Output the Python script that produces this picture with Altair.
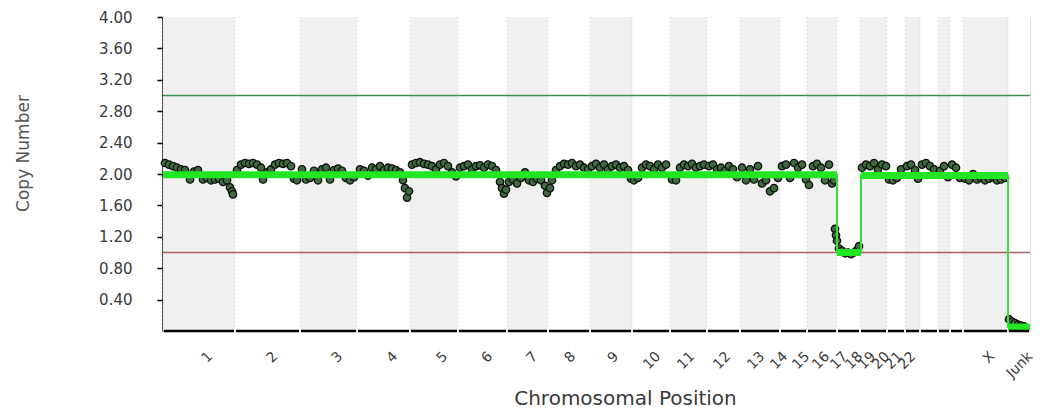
import json
import altair as alt
import pandas as pd

# ---------------- data ----------------
chrom_names = ['1', '2', '3', '4', '5', '6', '7', '8', '9', '10', '11', '12', '13', '14',
               '15', '16', '17', '18', '19', '20', '21', '22', 'X', 'Junk']
chrom_start = [0, 72, 137, 194, 247, 295, 344, 385, 427, 469, 507, 544, 577, 617,
               644, 674, 697, 724, 742, 757, 775, 787, 800, 845]
chrom_end = [72, 137, 194, 247, 295, 344, 385, 427, 469, 507, 544, 577, 617, 644,
             674, 697, 724, 742, 757, 775, 787, 800, 845, 867]
label_pos = [42, 107, 172, 227, 277, 322, 367, 405, 448, 490, 524, 560, 594, 617,
             639, 659, 677, 692, 705, 719, 732, 745, 824, 862]

y_ticks = [0.4, 0.8, 1.2, 1.6, 2.0, 2.4, 2.8, 3.2, 3.6, 4.0]
ref_cn = [3.0, 1.0]
ref_color = ['#3f8f4f', '#a86060']

seg_start = [0, 674, 698, 845]
seg_end = [674, 698, 845, 867]
seg_cn = [1.99, 1.00, 1.98, 0.05]

point_pos = [
    2, 6, 10, 14, 18, 22, 27, 31, 35, 40, 44, 48, 52, 56, 60, 64, 67, 69, 70,
    74, 78, 82, 86, 90, 94, 98, 100, 104, 108, 112, 116, 120, 124, 128, 131, 134,
    139, 143, 147, 151, 155, 159, 163, 167, 171, 175, 179, 183, 187, 191,
    197, 201, 205, 209, 213, 217, 221, 225, 229, 233, 237, 240, 242, 244, 246,
    249, 253, 257, 261, 265, 269, 273, 277, 281, 285, 289, 293,
    297, 301, 305, 309, 313, 317, 321, 325, 329, 333, 337, 339, 341, 343,
    346, 350, 354, 358, 362, 366, 370, 374, 378, 382, 384,
    387, 389, 393, 397, 401, 405, 409, 413, 417, 421, 425,
    429, 433, 437, 441, 445, 449, 453, 457, 461, 465, 468,
    471, 475, 479, 483, 487, 491, 495, 499, 503,
    509, 513, 517, 521, 525, 529, 533, 537, 541,
    546, 550, 554, 558, 562, 566, 570, 574,
    579, 583, 587, 591, 595, 599, 603, 607, 611, 615,
    619, 623, 627, 631, 635, 639, 643,
    646, 650, 654, 658, 662, 666, 669, 671,
    672, 673, 674, 676, 679, 682, 685, 688, 691, 694, 696,
    699, 703, 707, 711, 715, 719, 723,
    726, 730, 734, 738,
    744, 748, 752, 755,
    759, 763, 767, 771,
    777, 781, 785,
    789, 793, 797,
    802, 806, 810, 814, 818, 822, 826, 830, 834, 838, 842,
    846, 849, 852, 855, 858, 861,
]
point_cn = [
    2.14, 2.12, 2.10, 2.08, 2.06, 2.05, 1.93, 2.03, 2.05, 1.93, 1.95, 1.92, 1.93, 1.94, 1.90, 1.92, 1.83, 1.78, 1.74,
    2.05, 2.12, 2.14, 2.13, 2.14, 2.12, 2.08, 1.93, 2.02, 2.06, 2.12, 2.14, 2.13, 2.14, 2.10, 1.94, 1.92,
    2.06, 1.93, 1.95, 2.04, 1.92, 2.06, 2.08, 1.93, 2.05, 2.07, 2.04, 1.95, 1.92, 1.96,
    2.06, 2.04, 1.98, 2.08, 2.06, 2.10, 2.05, 2.08, 2.07, 2.05, 2.02, 1.92, 1.82, 1.70, 1.78,
    2.12, 2.14, 2.15, 2.13, 2.12, 2.10, 2.06, 2.12, 2.14, 2.10, 2.02, 1.97,
    2.08, 2.10, 2.12, 2.06, 2.10, 2.11, 2.08, 2.12, 2.10, 2.05, 1.90, 1.82, 1.75, 1.80,
    1.90, 1.93, 1.88, 1.95, 2.02, 1.92, 1.90, 1.94, 1.92, 1.85, 1.76,
    1.82, 1.92, 2.05, 2.10, 2.13, 2.12, 2.14, 2.10, 2.12, 2.08, 2.06,
    2.10, 2.13, 2.08, 2.12, 2.06, 2.10, 2.12, 2.08, 2.10, 2.05, 1.94,
    1.92, 1.95, 2.08, 2.12, 2.10, 2.06, 2.12, 2.08, 2.12,
    1.93, 1.92, 2.08, 2.12, 2.10, 2.13, 2.08, 2.10, 2.12,
    2.10, 2.12, 2.06, 2.08, 2.04, 2.10, 2.06, 1.96,
    2.08, 1.92, 2.06, 1.93, 2.10, 1.88, 1.92, 1.78, 1.82, 1.95,
    2.10, 2.12, 1.95, 2.14, 2.08, 2.12, 1.93,
    1.86, 2.10, 2.13, 2.08, 1.92, 2.12, 1.88, 1.92,
    1.30, 1.22, 1.15, 1.05, 1.02, 0.99, 1.00, 0.98, 1.00, 1.03, 1.08,
    2.08, 2.12, 2.10, 2.14, 2.06, 2.12, 2.10,
    1.93, 1.92, 1.95, 2.06,
    2.10, 2.12, 2.05, 1.94,
    2.12, 2.14, 2.10, 2.06,
    2.04, 2.10, 1.96,
    2.12, 2.08, 1.95,
    1.94, 1.92, 2.00, 1.93, 1.95, 1.92, 1.94, 1.96, 1.92, 1.93, 1.95,
    0.15, 0.12, 0.10, 0.08, 0.07, 0.06,
]

# ---------------- tables ----------------
bands_df = pd.DataFrame({
    'chrom': chrom_names,
    'start': chrom_start,
    'end': chrom_end,
    'shade': ['g' if i % 2 == 0 else 'w' for i in range(len(chrom_names))],
})
points_df = pd.DataFrame({'pos': point_pos, 'cn': point_cn})
seg_df = pd.DataFrame({'start': seg_start, 'end': seg_end, 'cn': seg_cn})
step_rows = []
for i, (s, e, v) in enumerate(zip(seg_start, seg_end, seg_cn)):
    step_rows.append({'pos': s, 'cn': v, 'o': 2 * i})
    step_rows.append({'pos': e, 'cn': v, 'o': 2 * i + 1})
step_df = pd.DataFrame(step_rows)
ref_df = pd.DataFrame({'cn': ref_cn, 'c': ref_color})

W, H = 867, 314
FONT = 'DejaVu Sans'

xscale = alt.Scale(domain=[0, 867], nice=False, zero=False)
yscale = alt.Scale(domain=[0, 4], nice=False)

label_expr = f"{json.dumps(chrom_names)}[indexof({json.dumps(label_pos)}, datum.value)]"

xaxis = alt.Axis(
    title='Chromosomal Position', values=label_pos, labelExpr=label_expr,
    domain=False, ticks=False, grid=False, labelAngle=-45, labelAlign='right',
    labelBaseline='top', labelPadding=18, labelOverlap=False, labelBound=False,
    labelFont=FONT, labelFontSize=14, labelColor='#3a3a3a',
    titleFont=FONT, titleFontSize=20, titleFontWeight='normal', titleColor='#3a3a3a',
    titleX=462, titleY=67, titleAlign='center', titleBaseline='middle',
)
yaxis = alt.Axis(
    title='Copy Number', values=y_ticks, format='.2f', grid=False,
    domainColor='black', domainWidth=2.5, tickColor='black', tickSize=6, tickWidth=1.5,
    labelPadding=25, labelFont=FONT, labelFontSize=15, labelColor='#3a3a3a',
    titleFont=FONT, titleFontSize=17, titleFontWeight='normal', titleColor='#555',
    titleX=-140, titleY=136, titleAlign='center', titleBaseline='middle', titleAngle=-90,
)

bands = alt.Chart(bands_df).mark_rect().encode(
    x=alt.X('start:Q', scale=xscale, axis=xaxis),
    x2='end:Q',
    y=alt.value(0), y2=alt.value(H),
    color=alt.Color('shade:N', scale=alt.Scale(domain=['g', 'w'], range=['#f0f0f0', '#ffffff']), legend=None),
)

dots = alt.Chart(bands_df).mark_rule(color='#cccccc', strokeDash=[1, 3], strokeWidth=1).encode(
    x=alt.X('start:Q', scale=xscale, axis=xaxis),
)

baseline = alt.Chart(bands_df).transform_calculate(
    a='datum.start + 1', b='datum.end - 1'
).mark_rule(color='black', strokeWidth=2.5).encode(
    x=alt.X('a:Q', scale=xscale, axis=xaxis), x2='b:Q', y=alt.value(H),
)

refs = alt.Chart(ref_df).mark_rule(strokeWidth=1.5).encode(
    y=alt.Y('cn:Q', scale=yscale, axis=yaxis),
    color=alt.Color('c:N', scale=None),
)

pts = alt.Chart(points_df).mark_circle(
    size=55, fill='#3d6b3d', stroke='#111111', strokeWidth=1.3, opacity=1
).encode(
    x=alt.X('pos:Q', scale=xscale, axis=xaxis),
    y=alt.Y('cn:Q', scale=yscale, axis=yaxis),
)

step = alt.Chart(step_df).mark_line(color='#3ddc3d', strokeWidth=2).encode(
    x=alt.X('pos:Q', scale=xscale, axis=xaxis),
    y=alt.Y('cn:Q', scale=yscale, axis=yaxis),
    order='o:Q',
)

segs = alt.Chart(seg_df).mark_rule(color='#22e622', strokeWidth=7).encode(
    x=alt.X('start:Q', scale=xscale, axis=xaxis), x2='end:Q',
    y=alt.Y('cn:Q', scale=yscale, axis=yaxis),
)

chart = alt.layer(bands, dots, refs, pts, step, segs, baseline).properties(
    width=W, height=H,
    autosize=alt.AutoSizeParams(type='none'),
    padding={'left': 163, 'top': 17, 'right': 16, 'bottom': 85},
).configure_view(stroke=None).configure(background='white')

chart.save('out.html', embed_options={'renderer': 'svg', 'actions': False})
